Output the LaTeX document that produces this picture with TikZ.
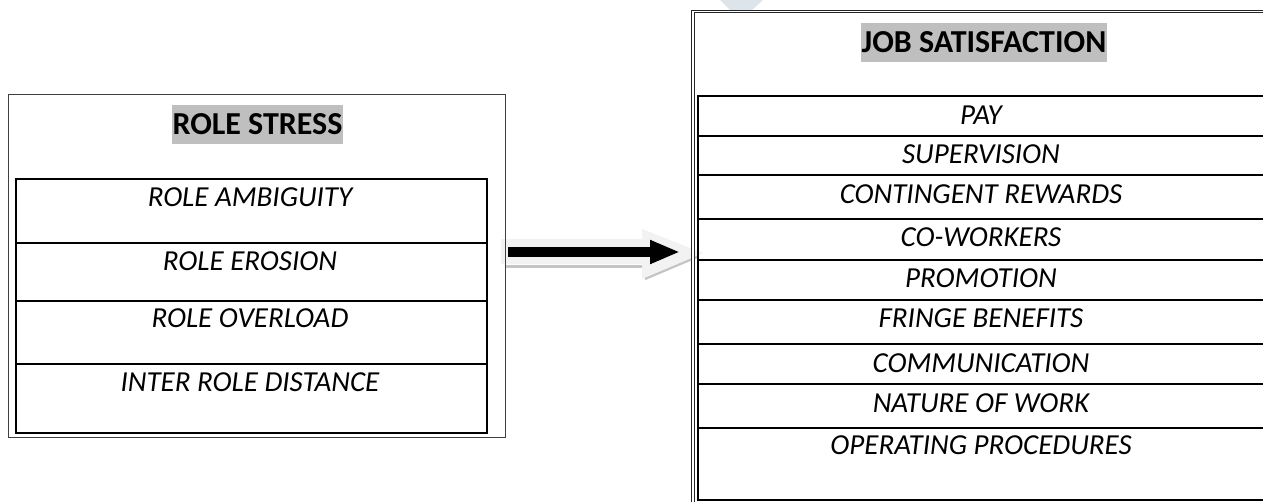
\documentclass[tikz,border=0pt]{standalone}
\usepackage{fontspec}
\setmainfont{Carlito}
\usetikzlibrary{arrows.meta,backgrounds,calc}
\definecolor{hilite}{HTML}{BFBFBF}
\definecolor{halo}{HTML}{F2F2F2}
\definecolor{haloshade}{HTML}{C4C4C4}
\definecolor{topmarkcol}{HTML}{DDE5EB}
\tikzset{
  outerbox/.style={draw=black!75, line width=1.2pt, anchor=north west, inner sep=0pt},
  outerdbl/.style={draw=black!85, double, double distance=1.6pt, line width=0.8pt, anchor=north west, inner sep=0pt},
  cell/.style={draw=black, line width=1.7pt, anchor=north west, inner sep=0pt},
  heading/.style={fill=hilite, font=\bfseries\fontsize{32}{38}\selectfont, text height=20.6pt, text depth=0pt, minimum height=39pt, inner xsep=1pt, inner ysep=0pt},
  item/.style={font=\itshape\fontsize{29}{34}\selectfont, text height=18.7pt, text depth=0pt, inner sep=0pt}
}
\begin{document}
\begin{tikzpicture}[x=1pt,y=-1pt]
\useasboundingbox (0,0) rectangle (1263,501);
\clip (0,0) rectangle (1263,501);

% faint mark at the top edge
\fill[fill=topmarkcol] (720,0) -- (763,0) -- (750,12) -- (732,12) -- cycle;

% ---- left block: role stress ----
\node[outerbox, minimum width=497pt, minimum height=343pt] (lout) at (8,94) {};
\node[heading] (ltitle) at (257.5,124.5) {ROLE STRESS};
\node[cell, minimum width=471pt, minimum height=64pt] (l1) at (15,178) {};
\node[cell, minimum width=471pt, minimum height=58pt] (l2) at (15,242) {};
\node[cell, minimum width=471pt, minimum height=63pt] (l3) at (15,300) {};
\node[cell, minimum width=471pt, minimum height=69pt] (l4) at (15,363) {};
\node[item] (t1) at (250,197) {ROLE AMBIGUITY};
\node[item] (t2) at (250,261) {ROLE EROSION};
\node[item] (t3) at (250,318) {ROLE OVERLOAD};
\node[item] (t4) at (250,382) {INTER ROLE DISTANCE};

% ---- right block: job satisfaction (runs past the right edge) ----
\node[outerdbl, minimum width=620pt, minimum height=520pt] (rout) at (692.5,11) {};
\node[heading] (rtitle) at (984,42) {JOB SATISFACTION};
\node[cell, minimum width=600pt, minimum height=40pt] (r1) at (697,95) {};
\node[cell, minimum width=600pt, minimum height=39pt] (r2) at (697,135) {};
\node[cell, minimum width=600pt, minimum height=44pt] (r3) at (697,174) {};
\node[cell, minimum width=600pt, minimum height=41pt] (r4) at (697,218) {};
\node[cell, minimum width=600pt, minimum height=40pt] (r5) at (697,259) {};
\node[cell, minimum width=600pt, minimum height=44pt] (r6) at (697,299) {};
\node[cell, minimum width=600pt, minimum height=40pt] (r7) at (697,343) {};
\node[cell, minimum width=600pt, minimum height=44pt] (r8) at (697,383) {};
\node[cell, minimum width=600pt, minimum height=72pt] (r9) at (697,427) {};
\node[item] (s1) at (981,115) {PAY};
\node[item] (s2) at (981,154) {SUPERVISION};
\node[item] (s3) at (981,194) {CONTINGENT REWARDS};
\node[item] (s4) at (981,237) {CO-WORKERS};
\node[item] (s5) at (981,278) {PROMOTION};
\node[item] (s6) at (981,318) {FRINGE BENEFITS};
\node[item] (s7) at (981,363) {COMMUNICATION};
\node[item] (s8) at (981,403) {NATURE OF WORK};
\node[item] (s9) at (981,445) {OPERATING PROCEDURES};

% ---- block arrow between the two blocks ----
\coordinate (arrS) at (508,252);
\coordinate (arrE) at (680,252);
\begin{scope}[on background layer]
  \fill[fill=halo] ($(arrS)+(-7,-13)$) -- ($(arrS)+(134,-13)$) -- ($(arrS)+(134,-23)$)
     -- ($(arrE)+(23,1)$) -- ($(arrS)+(134,27)$) -- ($(arrS)+(134,12)$)
     -- ($(arrS)+(-7,12)$) -- cycle;
  \draw[draw=haloshade, line width=2.2pt] ($(arrS)+(-2,14.5)$) -- ($(arrS)+(134,14.5)$);
  \draw[draw=haloshade, line width=2.2pt] ($(arrS)+(137,27)$) -- ($(arrE)+(17,5)$);
\end{scope}
\draw[line width=10pt, -{Triangle[width=22pt,length=30pt]}] (arrS) -- (arrE);
\end{tikzpicture}
\end{document}
